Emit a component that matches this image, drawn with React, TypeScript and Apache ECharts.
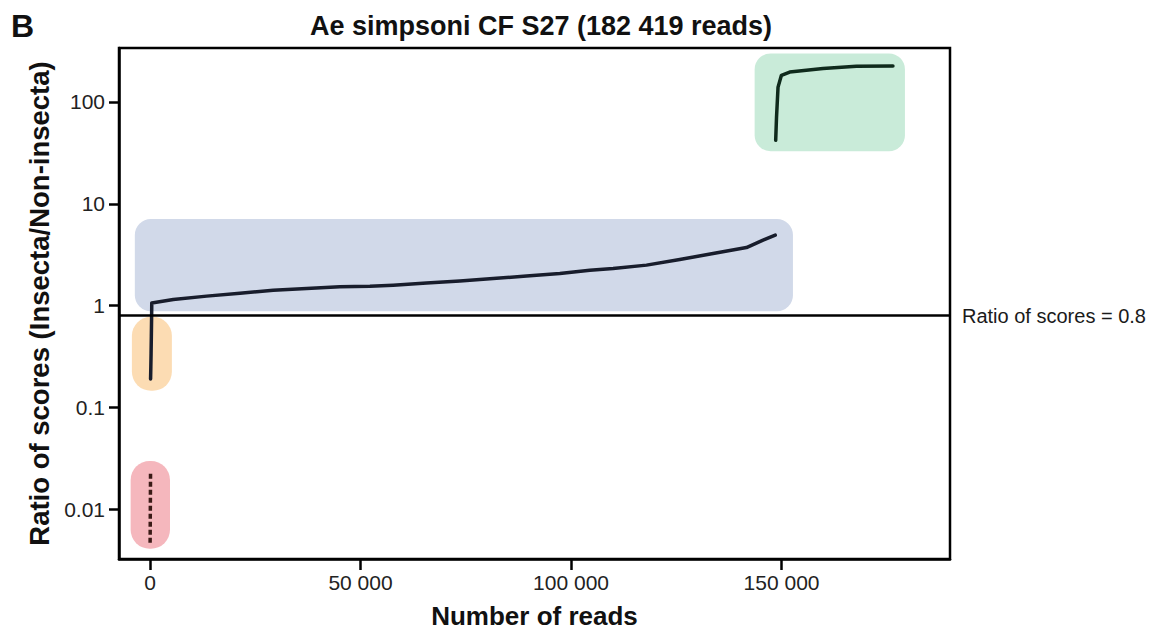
import React, { useEffect, useRef } from "react";
import * as echarts from "echarts";

// ---- data ----
const titleText = "Ae simpsoni CF S27 (182 419 reads)";
const xTickValues = [0, 50000, 100000, 150000];
const yTickValues = [0.01, 0.1, 1, 10, 100];
const threshold = 0.8;

const redReads = [30, 50, 70, 90, 110, 130];
const redRatio = [0.0047, 0.0062, 0.0085, 0.0115, 0.016, 0.0227];

const orangeReads = [140, 200, 260, 320, 380, 410];
const orangeRatio = [0.19, 0.25, 0.34, 0.5, 0.75, 0.95];

const blueReads = [420, 5530, 13460, 21370, 29270, 37200, 45100, 52230, 57760, 65690, 73600, 81500, 89430, 97340, 104460, 109990, 117920, 125820, 133730, 141660, 145600, 148500];
const blueRatio = [1.06, 1.15, 1.24, 1.32, 1.42, 1.47, 1.53, 1.55, 1.59, 1.67, 1.75, 1.85, 1.95, 2.07, 2.23, 2.32, 2.5, 2.84, 3.25, 3.72, 4.39, 4.92];

const greenReads = [148600, 148800, 149160, 149960, 151930, 159840, 167770, 176450];
const greenRatio = [42, 71, 140, 183, 197, 213, 224, 226];

// highlight boxes: [readsFrom, readsTo, ratioLow, ratioHigh]
const redBox = [-4600, 4750, 0.0041, 0.0298];
const orangeBox = [-4300, 5200, 0.146, 0.776];
const blueBox = [-3600, 152700, 0.88, 7.1];
const greenBox = [143600, 179300, 32.8, 300];

const boxColors = ["#f5b7bd", "#fcdcb3", "#d1d9e9", "#c9ebd9"];
const boxRadius = [19, 19, 16, 16];

const FONT = "'Liberation Sans', Arial, Helvetica, sans-serif";

function zip(xs: number[], ys: number[]) {
  return xs.map((x, i) => [x, ys[i]]);
}

function fmtThousands(v: number) {
  return String(v).replace(/\B(?=(\d{3})+(?!\d))/g, " ");
}

export default function App() {
  const ref = useRef<HTMLDivElement>(null);

  useEffect(() => {
    document.body.style.margin = "0";
    const chart = echarts.init(ref.current!, null, { renderer: "svg" });
    const boxes = [redBox, orangeBox, blueBox, greenBox];
    const option: any = {
      animation: false,
      backgroundColor: "#ffffff",
      textStyle: { fontFamily: FONT },
      title: {
        text: titleText,
        left: 536,
        top: 7,
        textAlign: "center",
        textStyle: { fontFamily: FONT, fontSize: 27, fontWeight: "bold", color: "#111" },
      },
      graphic: [
        {
          type: "text",
          left: 11,
          top: 10,
          style: { text: "B", font: `bold 32px ${FONT}`, fill: "#111" },
        },
      ],
      grid: {
        left: 119,
        right: 201,
        top: 48,
        bottom: 73,
        containLabel: false,
        outerBoundsMode: "none",
        show: true,
        borderColor: "#000",
        borderWidth: 2.5,
        backgroundColor: "transparent",
      },
      xAxis: {
        type: "value",
        min: -7360,
        max: 190000,
        name: "Number of reads",
        nameLocation: "middle",
        nameGap: 44,
        nameTextStyle: { fontFamily: FONT, fontSize: 26, fontWeight: "bold", color: "#111" },
        axisLine: { show: true, onZero: false, lineStyle: { color: "#000", width: 2.5 } },
        axisTick: { show: true, length: 11, lineStyle: { color: "#000", width: 2.5 }, customValues: xTickValues },
        axisLabel: {
          margin: 13,
          fontSize: 21,
          color: "#222",
          fontFamily: FONT,
          customValues: xTickValues,
          formatter: (v: number) => fmtThousands(v),
        },
        splitLine: { show: false },
      },
      yAxis: {
        type: "log",
        min: 0.00325,
        max: 339,
        name: "Ratio of scores (Insecta/Non-insecta)",
        nameLocation: "middle",
        nameGap: 66,
        nameTextStyle: { fontFamily: FONT, fontSize: 27.5, fontWeight: "bold", color: "#111" },
        axisLine: { show: true, onZero: false, lineStyle: { color: "#000", width: 2.5 } },
        axisTick: { show: true, length: 10, lineStyle: { color: "#000", width: 2.5 }, customValues: yTickValues },
        axisLabel: {
          margin: 14,
          fontSize: 21,
          color: "#222",
          fontFamily: FONT,
          customValues: yTickValues,
          formatter: (v: number) => String(v),
        },
        splitLine: { show: false },
        minorSplitLine: { show: false },
      },
      series: [
        {
          type: "custom",
          name: "boxes",
          z: 1,
          silent: true,
          encode: { x: [0, 1], y: [2, 3] },
          data: boxes,
          renderItem: (params: any, api: any) => {
            const p0 = api.coord([api.value(0), api.value(3)]);
            const p1 = api.coord([api.value(1), api.value(2)]);
            const i = params.dataIndex;
            return {
              type: "rect",
              shape: { x: p0[0], y: p0[1], width: p1[0] - p0[0], height: p1[1] - p0[1], r: boxRadius[i] },
              style: { fill: boxColors[i] },
            };
          },
        },
        {
          type: "line",
          name: "low",
          z: 3,
          data: zip(redReads, redRatio),
          showSymbol: false,
          symbol: "none",
          lineStyle: { color: "#3a1a16", width: 3.5, type: [5, 3] },
        },
        {
          type: "line",
          name: "main",
          z: 3,
          data: zip(orangeReads, orangeRatio).concat(zip(blueReads, blueRatio)),
          showSymbol: false,
          symbol: "none",
          lineStyle: { color: "#181d2c", width: 3.5, join: "round", cap: "round" },
          markLine: {
            silent: true,
            symbol: "none",
            data: [{ yAxis: threshold }],
            lineStyle: { color: "#000", width: 2.5, type: "solid" },
            label: {
              show: true,
              position: "end",
              distance: 12,
              formatter: "Ratio of scores = 0.8",
              fontSize: 20,
              color: "#1a1a1a",
              fontFamily: FONT,
            },
          },
        },
        {
          type: "line",
          name: "high",
          z: 3,
          data: zip(greenReads, greenRatio),
          showSymbol: false,
          symbol: "none",
          lineStyle: { color: "#0f2a1c", width: 3.5, join: "round", cap: "round" },
        },
      ],
    };
    chart.setOption(option);
    return () => chart.dispose();
  }, []);

  return <div ref={ref} style={{ width: 1151, height: 632 }} />;
}
